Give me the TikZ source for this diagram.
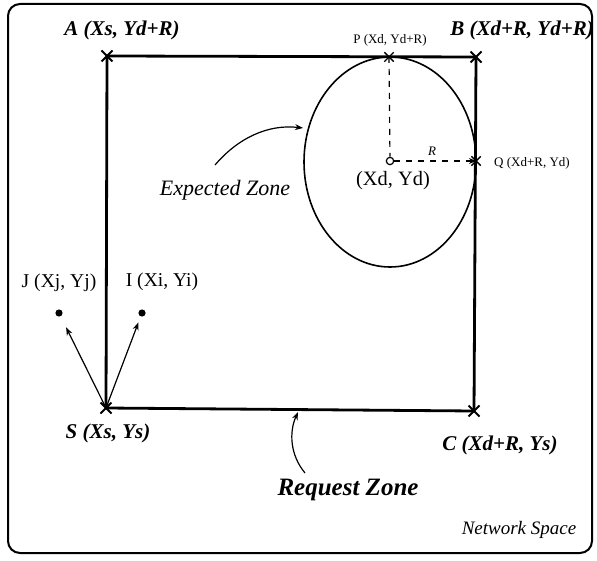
\documentclass[tikz,border=0pt]{standalone}
\usepackage{fontspec}
\setmainfont{Liberation Serif}
\usetikzlibrary{arrows.meta, shapes.misc}

\begin{document}
\begin{tikzpicture}[
  x=0.5pt, y=-0.5pt,
  font=\normalsize,
  corner/.style={cross out, draw, line width=1pt, minimum size=4.5pt, inner sep=0pt},
  zone/.style={line width=1.4pt},
  lbl/.style={font=\fontsize{10.5}{12}\selectfont\bfseries\itshape, inner sep=0pt},
  small/.style={font=\fontsize{6.5}{8}\selectfont, inner sep=0pt},
  plain/.style={font=\fontsize{9.8}{11}\selectfont, inner sep=0pt},
  node dot/.style={circle, fill, inner sep=0pt, minimum size=3.6pt},
  flow/.style={-{Stealth[length=4pt, width=3pt]}, line width=0.6pt}
]
  \useasboundingbox (0,0) rectangle (597,560);
  % network space frame
  \draw[line width=1pt, rounded corners=6pt] (8,4) rectangle (592,553);

  % request zone corners
  \node[corner] (A) at (107,56)  {};
  \node[corner] (B) at (476,57)  {};
  \node[corner] (C) at (474,411) {};
  \node[corner] (S) at (106,408) {};
  \draw[zone] (A.center) -- (B.center) -- (C.center) -- (S.center) -- cycle;

  % expected zone
  \draw[line width=0.8pt] (390,162) ellipse [x radius=43pt, y radius=52.5pt];
  \node[corner, line width=0.7pt, minimum size=4pt] (P) at (389,57)  {};
  \node[corner, line width=0.7pt, minimum size=4pt] (Q) at (476,161) {};
  \node[circle, draw, line width=0.6pt, inner sep=1.3pt] (D) at (390,161) {};
  \draw[dashed, line width=0.6pt] (P.center) -- (D);
  \draw[dashed, line width=0.6pt, -{Stealth[length=3.5pt, width=3pt]}] (D) -- (Q.center);

  % nodes I and J
  \node[node dot] (J) at (59,313)  {};
  \node[node dot] (I) at (142,313) {};
  \draw[flow, shorten >=6pt] (S.center) -- (J);
  \draw[flow, shorten >=3pt] (S.center) -- (I);

  % labels
  \node[lbl] (Alab) at (122,30)  {A (Xs, Yd+R)};
  \node[lbl] (Blab) at (522,30)  {B (Xd+R, Yd+R)};
  \node[lbl] (Slab) at (108,433) {S (Xs, Ys)};
  \node[lbl] (Clab) at (500,445) {C (Xd+R, Ys)};
  \node[small] (Plab) at (390,40)  {P (Xd, Yd+R)};
  \node[small] (Qlab) at (532,163) {Q (Xd+R, Yd)};
  \node[small, font=\fontsize{6.5}{8}\selectfont\itshape] (Rlab) at (432,151) {R};
  \node[plain, font=\fontsize{10.2}{12}\selectfont] (Dlab) at (393,181) {(Xd, Yd)};
  \node[plain] (Jlab) at (59,283)  {J (Xj, Yj)};
  \node[plain] (Ilab) at (162,282) {I (Xi, Yi)};
  \node[plain, font=\fontsize{11}{13}\selectfont\itshape] (EZ) at (225,190) {Expected Zone};
  \node[lbl, font=\fontsize{12.5}{15}\selectfont\bfseries\itshape] (RZ) at (348,490) {Request Zone};
  \node[plain, font=\fontsize{9.5}{11}\selectfont\itshape] (NS) at (519,530) {Network Space};

  % pointers
  \coordinate (ez) at (215,165);
  \coordinate (ezend) at (303,128);
  \draw[flow] (ez) .. controls (238,138) and (268,124) .. (ezend);
  \coordinate (rz) at (305,473);
  \coordinate (rzend) at (298,412);
  \draw[flow] (rz) .. controls (290,455) and (289,432) .. (rzend);
\end{tikzpicture}
\end{document}
